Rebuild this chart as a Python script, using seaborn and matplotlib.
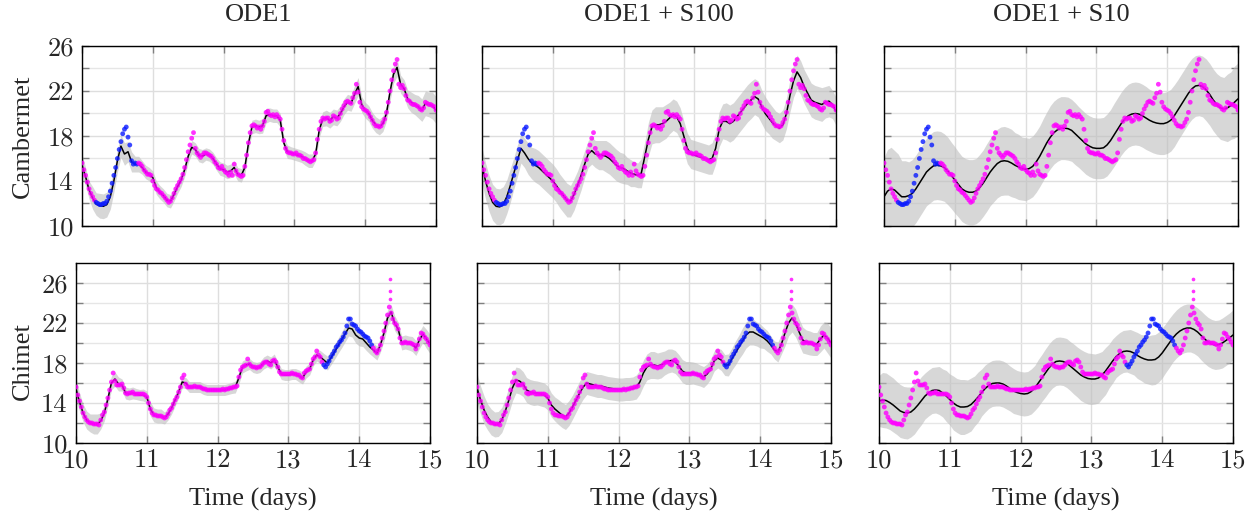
import numpy as np
import pandas as pd
import matplotlib
matplotlib.use("Agg")
import matplotlib.pyplot as plt
from matplotlib.ticker import FixedLocator
import seaborn as sns

# Observed temperatures, one value every 0.025 days from day 10 to day 15
cambermet_obs = (
    [15.6, 15.0, 14.5, 13.9, 13.3, 12.9, 12.6, 12.3, 12.1, 12.0, 11.9, 11.9, 12.0, 12.0, 12.2, 12.6, 13.1, 13.8, 14.5, 15.2,
     16.0, 16.8, 17.5, 18.2, 18.6, 18.8, 17.9, 17.2, 15.8, 15.5, 15.6, 15.5, 15.6, 15.5, 15.3, 15.0, 14.8, 14.6, 14.6, 14.5]
    + [14.0, 13.6, 13.3, 13.2, 13.0, 12.9, 12.7, 12.5, 12.3, 12.1, 12.2, 12.5, 12.9, 13.3, 13.6, 13.9, 14.2, 14.6, 15.2, 15.9,
       16.6, 17.2, 17.8, 18.3, 16.9, 16.5, 16.3, 16.1, 16.3, 16.5, 16.5, 16.4, 16.3, 16.2, 16.0, 15.7, 15.5, 15.2, 15.1, 15.3]
    + [15.0, 14.8, 14.7, 14.5, 14.8, 14.5, 15.5, 14.9, 14.6, 14.5, 14.4, 14.5, 15.3, 16.3, 17.4, 18.3, 18.9, 19.0, 18.9, 18.7,
       18.8, 18.6, 18.9, 19.3, 20.1, 20.2, 19.9, 19.8, 19.9, 19.7, 19.9, 19.7, 19.5, 18.6, 17.6, 16.9, 16.6, 16.5, 16.5, 16.4]
    + [16.4, 16.5, 16.3, 16.3, 16.2, 16.0, 16.0, 15.9, 15.8, 15.7, 15.8, 15.9, 16.5, 17.7, 18.6, 19.3, 19.6, 19.5, 19.6, 19.6,
       19.3, 19.4, 19.8, 19.7, 19.5, 19.6, 20.0, 20.4, 20.7, 21.0, 21.1, 21.0, 20.9, 21.4, 21.8, 22.6, 21.9, 21.0, 20.6, 20.4]
    + [20.3, 20.2, 20.0, 19.7, 19.4, 19.1, 18.9, 18.9, 18.8, 18.9, 19.2, 19.5, 20.1, 21.0, 22.0, 23.0, 23.8, 24.4, 24.8, 22.6,
       22.3, 22.5, 22.2, 21.6, 21.2, 21.1, 20.9, 20.8, 20.8, 20.7, 20.6, 20.4, 20.3, 20.5, 21.0, 20.9, 20.8, 20.8, 20.7, 20.6]
    + [20.3]
)
chimet_obs = (
    [15.6, 14.8, 14.2, 13.6, 13.0, 12.6, 12.3, 12.1, 12.0, 12.0, 11.9, 11.9, 11.9, 11.8, 12.3, 12.8, 13.1, 13.8, 14.5, 15.3,
     16.1, 17.0, 16.2, 15.8, 15.8, 15.8, 15.9, 15.5, 15.0, 14.9, 15.0, 15.0, 15.1, 14.9, 14.9, 14.9, 14.9, 14.9, 14.9, 14.8]
    + [14.6, 14.0, 13.4, 13.0, 12.8, 12.8, 12.7, 12.7, 12.7, 12.6, 12.5, 12.6, 12.9, 13.3, 13.5, 13.9, 14.3, 14.6, 15.1, 15.6,
       16.5, 16.8, 15.9, 15.6, 15.6, 15.6, 15.6, 15.7, 15.6, 15.6, 15.6, 15.5, 15.4, 15.4, 15.3, 15.3, 15.3, 15.3, 15.3, 15.3]
    + [15.3, 15.3, 15.3, 15.4, 15.3, 15.4, 15.4, 15.5, 15.5, 15.6, 15.6, 15.7, 16.6, 17.3, 17.6, 17.7, 17.8, 18.4, 17.9, 17.7,
       17.6, 17.6, 17.5, 17.6, 17.6, 17.8, 18.0, 18.1, 18.1, 17.9, 17.8, 18.2, 18.3, 18.1, 17.6, 17.1, 16.9, 16.9, 16.9, 16.9]
    + [16.9, 16.9, 17.0, 16.9, 16.9, 16.8, 16.8, 16.6, 16.5, 17.0, 17.2, 17.3, 17.4, 17.9, 18.4, 18.6, 19.2, 18.8, 18.6, 18.1,
       17.8, 17.6, 17.9, 18.2, 18.6, 18.9, 19.2, 19.6, 19.8, 20.1, 20.3, 20.6, 21.0, 21.7, 22.4, 22.4, 21.9, 21.8, 21.7, 21.4]
    + [21.2, 21.1, 20.9, 20.7, 20.6, 20.5, 20.2, 19.8, 19.5, 19.2, 19.0, 19.3, 19.8, 20.5, 21.2, 22.0, 22.8, 23.6, 23.0, 22.4,
       22.0, 21.8, 21.4, 20.5, 20.0, 20.0, 20.1, 20.0, 20.0, 20.0, 19.9, 19.8, 19.4, 19.8, 20.4, 21.0, 20.9, 20.6, 20.4, 20.1]
    + [19.8]
)
# isolated readings above the Chimet peak
chimet_spike_t = [14.44, 14.44, 14.44]
chimet_spike_v = [24.4, 25.2, 26.4]

# held-out (blue) windows, in days
heldout = {"Cambermet": (10.19, 10.79), "Chimet": (13.49, 14.19)}

# Model means, one value every 0.05 days
cam_ode1 = (
    [15.4, 14.4, 13.2, 12.5, 11.95, 11.8, 11.75, 11.9, 12.6, 14.0, 15.8, 17.1, 16.4, 16.6, 15.7, 15.5, 15.5, 15.2, 14.8, 14.6]
    + [14.3, 13.4, 13.0, 12.7, 12.3, 12.2, 12.8, 13.5, 14.1, 15.0, 16.2, 17.0, 16.8, 16.3, 16.2, 16.4, 16.3, 16.0, 15.5, 15.1]
    + [15.0, 14.8, 14.9, 15.2, 14.6, 14.5, 15.2, 17.3, 18.8, 18.9, 18.8, 18.9, 19.8, 19.9, 19.8, 19.8, 19.4, 17.4, 16.6, 16.5]
    + [16.4, 16.3, 16.2, 16.0, 15.8, 15.8, 16.4, 18.5, 19.5, 19.6, 19.4, 19.7, 19.6, 20.0, 20.6, 21.0, 20.9, 21.7, 22.4, 20.8]
    + [20.3, 20.0, 19.4, 19.0, 18.8, 19.1, 20.0, 21.9, 23.5, 24.1, 22.6, 22.2, 21.3, 21.0, 20.8, 20.6, 20.3, 20.9, 20.8, 20.7]
    + [20.3]
)
cam_s100 = (
    [15.4, 14.0, 12.9, 12.1, 11.75, 11.7, 11.9, 12.6, 13.6, 14.7, 15.8, 16.9, 16.5, 16.0, 15.6, 15.4, 15.2, 14.9, 14.6, 14.3]
    + [14.0, 13.6, 13.1, 12.7, 12.3, 12.2, 12.8, 13.6, 14.5, 15.5, 16.4, 16.7, 16.4, 16.3, 16.3, 16.2, 16.0, 15.7, 15.4, 15.2]
    + [15.1, 14.9, 14.7, 14.6, 14.5, 14.7, 16.2, 17.7, 18.8, 19.0, 19.0, 19.1, 19.3, 19.6, 19.9, 19.7, 19.1, 18.0, 16.9, 16.4]
    + [16.3, 16.2, 16.1, 16.0, 15.9, 16.0, 16.9, 18.6, 19.3, 19.3, 19.1, 19.3, 19.7, 20.1, 20.5, 20.9, 21.2, 21.5, 21.3, 20.6]
    + [20.0, 19.6, 19.2, 18.9, 18.7, 19.0, 20.0, 21.6, 22.9, 23.7, 23.2, 22.4, 21.8, 21.2, 21.0, 20.9, 20.8, 21.0, 21.1, 20.8]
    + [20.2]
)
cam_s10 = (
    [12.6, 13.1, 13.3, 13.2, 12.9, 12.6, 12.6, 12.7, 12.9, 13.3, 13.8, 14.3, 14.8, 15.1, 15.35, 15.4, 15.35, 15.2, 14.9, 14.5]
    + [14.1, 13.7, 13.3, 13.1, 13.0, 13.0, 13.1, 13.4, 13.8, 14.3, 14.8, 15.2, 15.55, 15.75, 15.8, 15.75, 15.6, 15.4, 15.25, 15.1]
    + [15.05, 15.1, 15.3, 15.7, 16.2, 16.8, 17.4, 17.9, 18.3, 18.55, 18.7, 18.7, 18.65, 18.5, 18.2, 17.9, 17.6, 17.3, 17.1, 16.95]
    + [16.9, 16.9, 16.95, 17.2, 17.6, 18.1, 18.6, 19.1, 19.5, 19.8, 19.95, 20.0, 19.95, 19.8, 19.6, 19.4, 19.25, 19.15, 19.1, 19.1]
    + [19.2, 19.4, 19.8, 20.3, 20.8, 21.3, 21.8, 22.2, 22.45, 22.5, 22.4, 22.1, 21.7, 21.2, 20.8, 20.5, 20.4, 20.5, 20.7, 21.0]
    + [21.3]
)
chi_ode1 = (
    [15.4, 14.1, 13.0, 12.3, 12.0, 11.9, 11.9, 12.2, 13.0, 14.4, 16.0, 16.4, 15.9, 15.8, 15.0, 14.9, 15.0, 14.9, 14.8, 14.8]
    + [14.6, 13.4, 12.8, 12.7, 12.7, 12.5, 12.9, 13.5, 14.3, 15.1, 16.1, 16.0, 15.6, 15.6, 15.6, 15.6, 15.4, 15.3, 15.3, 15.3]
    + [15.3, 15.3, 15.3, 15.4, 15.5, 15.6, 16.5, 17.6, 17.8, 17.9, 17.6, 17.5, 17.6, 18.0, 18.2, 18.0, 18.3, 17.6, 16.9, 16.8]
    + [16.8, 16.9, 16.9, 16.7, 16.5, 17.1, 17.4, 18.3, 18.8, 18.6, 18.3, 18.0, 18.5, 19.1, 19.7, 20.3, 20.9, 21.5, 21.4, 20.8]
    + [20.5, 20.4, 20.0, 19.6, 19.3, 19.0, 19.8, 21.0, 22.5, 23.1, 22.0, 21.4, 20.0, 20.1, 20.0, 19.9, 19.5, 20.3, 20.9, 20.4]
    + [19.9]
)
chi_s100 = (
    [15.5, 14.3, 13.3, 12.6, 12.1, 11.85, 11.9, 12.3, 13.2, 14.3, 15.5, 16.3, 16.2, 15.9, 15.3, 15.1, 15.0, 15.0, 14.9, 14.8]
    + [14.5, 13.8, 13.4, 13.1, 12.8, 12.6, 13.0, 13.6, 14.3, 15.0, 15.6, 16.0, 15.9, 15.8, 15.7, 15.7, 15.6, 15.5, 15.45, 15.4]
    + [15.35, 15.35, 15.4, 15.4, 15.45, 15.6, 16.1, 17.0, 17.6, 17.8, 17.8, 17.7, 17.8, 18.0, 18.2, 18.25, 18.1, 17.7, 17.2, 17.0]
    + [17.0, 17.0, 16.9, 16.75, 16.6, 16.9, 17.4, 18.2, 18.5, 18.3, 17.8, 17.8, 18.4, 19.0, 19.6, 20.2, 20.8, 21.1, 21.1, 20.9]
    + [20.7, 20.5, 20.2, 19.8, 19.3, 19.1, 19.9, 21.0, 22.0, 22.5, 22.0, 21.1, 20.3, 20.1, 20.0, 19.9, 19.9, 20.4, 20.8, 20.5]
    + [20.0]
)
chi_s10 = (
    [14.2, 14.3, 14.25, 14.05, 13.8, 13.5, 13.2, 13.05, 13.0, 13.1, 13.4, 13.8, 14.25, 14.7, 15.0, 15.25, 15.3, 15.25, 15.0, 14.7]
    + [14.35, 14.0, 13.75, 13.6, 13.6, 13.65, 13.85, 14.2, 14.6, 15.05, 15.45, 15.75, 15.95, 16.0, 16.0, 15.9, 15.7, 15.45, 15.2, 15.05]
    + [14.95, 14.9, 14.95, 15.15, 15.5, 16.0, 16.5, 17.0, 17.5, 17.9, 18.15, 18.2, 18.15, 18.0, 17.7, 17.4, 17.1, 16.8, 16.6, 16.45]
    + [16.4, 16.4, 16.5, 16.8, 17.2, 17.7, 18.2, 18.65, 18.95, 19.15, 19.2, 19.15, 19.0, 18.75, 18.55, 18.4, 18.3, 18.3, 18.35, 18.6]
    + [19.0, 19.5, 20.0, 20.5, 20.9, 21.2, 21.4, 21.5, 21.5, 21.35, 21.1, 20.75, 20.4, 20.1, 19.9, 19.8, 19.85, 20.0, 20.25, 20.5]
    + [20.8]
)

# Half-width of the grey uncertainty band, one value every 0.1 days
cam_ode1_hw = [1.0, 0.8, 1.0, 1.1, 1.1, 1.0, 1.0, 0.9, 0.7, 0.6,
               0.6, 0.6, 0.6, 0.6, 0.6, 0.6, 0.6, 0.6, 0.55, 0.55,
               0.6, 0.6, 0.6, 0.6, 0.6, 0.6, 0.65, 0.6, 0.6, 0.6,
               0.55, 0.55, 0.6, 0.6, 0.65, 0.7, 0.7, 0.7, 0.7, 0.8,
               0.7, 0.7, 0.7, 0.7, 0.8, 0.8, 0.8, 0.9, 1.0, 1.1, 1.2]
cam_s100_hw = [1.6, 1.6, 1.6, 1.6, 1.5, 1.4, 1.3, 1.4, 1.5, 1.5,
               1.5, 1.5, 1.5, 1.4, 1.3, 1.2, 1.2, 1.3, 1.4, 1.4,
               1.35, 1.2, 1.1, 1.3, 1.5, 1.6, 1.5, 1.4, 1.4, 1.35,
               1.3, 1.3, 1.3, 1.4, 1.55, 1.65, 1.65, 1.65, 1.65, 1.6,
               1.5, 1.4, 1.3, 1.35, 1.45, 1.5, 1.5, 1.5, 1.5, 1.4, 1.25]
cam_s10_hw = [3.5, 3.7, 3.5, 3.2, 3.0, 3.0, 3.0, 3.05, 3.05, 3.0,
              2.95, 2.9, 2.9, 2.9, 2.95, 3.0, 3.05, 3.05, 3.0, 2.9,
              2.8, 2.7, 2.7, 2.75, 2.8, 2.8, 2.8, 2.75, 2.7, 2.7,
              2.7, 2.7, 2.75, 2.8, 2.8, 2.8, 2.8, 2.8, 2.75, 2.75,
              2.75, 2.75, 2.7, 2.7, 2.7, 2.7, 2.75, 2.75, 2.8, 3.0, 3.2]
chi_ode1_hw = [1.1, 0.9, 0.9, 1.0, 0.8, 0.7, 0.7, 0.6, 0.6, 0.55,
               0.6, 0.7, 0.7, 0.6, 0.6, 0.6, 0.55, 0.55, 0.55, 0.55,
               0.55, 0.55, 0.55, 0.6, 0.6, 0.55, 0.55, 0.6, 0.6, 0.55,
               0.55, 0.55, 0.6, 0.6, 0.6, 0.65, 0.7, 0.75, 0.8, 0.8,
               0.8, 0.75, 0.7, 0.7, 0.8, 0.75, 0.7, 0.7, 0.75, 0.85, 0.95]
chi_s100_hw = [1.5, 1.4, 1.3, 1.25, 1.25, 1.3, 1.3, 1.25, 1.25, 1.2,
               1.2, 1.2, 1.25, 1.25, 1.2, 1.2, 1.15, 1.15, 1.15, 1.15,
               1.15, 1.15, 1.15, 1.2, 1.3, 1.35, 1.3, 1.2, 1.15, 1.15,
               1.15, 1.1, 1.05, 1.0, 1.0, 1.05, 1.1, 1.2, 1.3, 1.3,
               1.2, 1.05, 0.9, 1.0, 1.3, 1.4, 1.3, 1.2, 1.15, 1.3, 1.5]
chi_s10_hw = [2.55, 2.75, 2.7, 2.65, 2.6, 2.5, 2.4, 2.3, 2.3, 2.4,
              2.55, 2.7, 2.75, 2.65, 2.5, 2.35, 2.3, 2.3, 2.3, 2.25,
              2.2, 2.2, 2.25, 2.35, 2.4, 2.4, 2.4, 2.45, 2.5, 2.55,
              2.55, 2.5, 2.35, 2.2, 2.1, 2.1, 2.2, 2.3, 2.4, 2.5,
              2.5, 2.45, 2.4, 2.4, 2.4, 2.4, 2.45, 2.45, 2.45, 2.5, 2.5]

stations = ["Cambermet", "Chimet"]
models = ["ODE1", "ODE1 + S100", "ODE1 + S10"]
obs = {"Cambermet": cambermet_obs, "Chimet": chimet_obs}
means = {"Cambermet": [cam_ode1, cam_s100, cam_s10], "Chimet": [chi_ode1, chi_s100, chi_s10]}
widths = {"Cambermet": [cam_ode1_hw, cam_s100_hw, cam_s10_hw], "Chimet": [chi_ode1_hw, chi_s100_hw, chi_s10_hw]}
x_ticks = [10, 11, 12, 13, 14, 15]
y_major = [10, 14, 18, 22, 26]
y_minor = [12, 16, 20, 24]
ylims = {"Cambermet": (10, 26), "Chimet": (10, 28)}

t_obs = np.linspace(10, 15, len(cambermet_obs))
t_fit = np.linspace(10, 15, len(cam_ode1))
band_idx = (np.arange(len(t_fit)) + 1) // 2   # nearest 0.1-day width sample

sns.set_theme(style="white")
plt.rcParams["font.family"] = ["Liberation Serif", "DejaVu Serif"]
palette = {"train": "#ff00ff", "test": "#0a1aff"}

fig = plt.figure(figsize=(12.56, 5.16), dpi=100)
W, H = 354 / 1256, 180 / 516
lefts = {"Cambermet": [82, 482, 884], "Chimet": [76, 477, 879]}
tops = {"Cambermet": 46, "Chimet": 263}

for r, station in enumerate(stations):
    df = pd.DataFrame({"t": t_obs, "temp": obs[station]})
    lo, hi = heldout[station]
    df["split"] = np.where((df["t"] >= lo) & (df["t"] <= hi), "test", "train")
    for c, model in enumerate(models):
        ax = fig.add_axes([lefts[station][c] / 1256, (516 - tops[station] - 180) / 516, W, H])
        mu = np.asarray(means[station][c])
        hw = np.asarray(widths[station][c])[band_idx]
        ax.fill_between(t_fit, mu - hw, mu + hw, color="#bdbdbd", alpha=0.6, linewidth=0, zorder=2)
        sns.lineplot(x=t_fit, y=mu, color="black", linewidth=1.1, estimator=None, ax=ax, zorder=3)
        sns.scatterplot(data=df, x="t", y="temp", hue="split", palette=palette, s=12,
                        linewidth=0, alpha=0.8, legend=False, ax=ax, zorder=4)
        if station == "Chimet":
            sns.scatterplot(x=chimet_spike_t, y=chimet_spike_v, color="#ff00ff", s=7,
                            linewidth=0, alpha=0.8, ax=ax, zorder=4)

        ax.set_xlim(10, 15)
        ax.set_ylim(*ylims[station])
        ax.xaxis.set_major_locator(FixedLocator(x_ticks))
        ax.yaxis.set_major_locator(FixedLocator(y_major))
        ax.yaxis.set_minor_locator(FixedLocator(y_minor))
        ax.set_axisbelow(True)
        ax.grid(True, which="major", color="#dedede", linewidth=1.0)
        ax.grid(True, which="minor", axis="y", color="#e6e6e6", linewidth=1.0)
        for sp in ax.spines.values():
            sp.set_color("black")
            sp.set_linewidth(1.0)
        ax.tick_params(which="both", direction="in", top=True, right=True, left=True, bottom=True,
                       color="#808080", length=5, width=1.0)
        ax.tick_params(axis="both", labelsize=19, labelfontfamily="cmr10")
        ax.tick_params(axis="x", pad=4)
        ax.tick_params(axis="y", pad=6)
        ax.set_xlabel("")
        ax.set_ylabel("")
        if r == 0:
            ax.tick_params(labelbottom=False)
            ax.set_title(model, fontsize=19, pad=18)
        else:
            ax.set_xlabel("Time (days)", fontsize=19)
            ax.xaxis.set_label_coords(0.5, -0.25)
        if c == 0:
            ax.set_ylabel(station, fontsize=19)
            ax.yaxis.set_label_coords((34 - lefts[station][0]) / 354, 0.5 if r == 0 else 0.455)
        else:
            ax.tick_params(labelleft=False)

fig.savefig("out.png", dpi=100)
